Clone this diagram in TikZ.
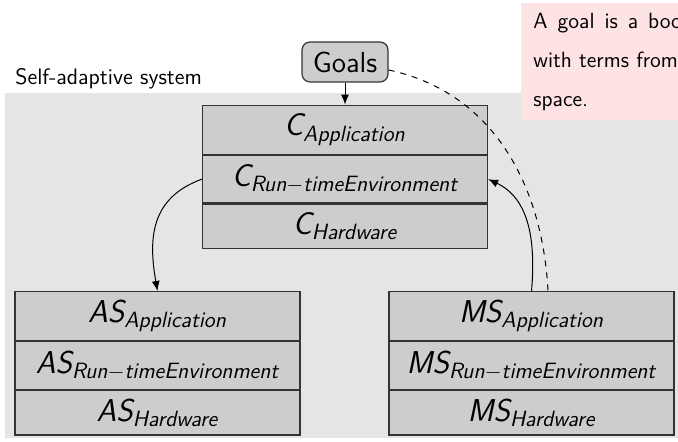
\documentclass[tikz,border=0pt]{standalone}
\usepackage{amsmath}
\usepackage{fontspec}
\usetikzlibrary{arrows.meta,positioning}
\definecolor{Canvas}{HTML}{E5E5E5}
\definecolor{Layer}{HTML}{CDCDCD}
\definecolor{Edge}{HTML}{333333}
\definecolor{Blush}{HTML}{FDE3E3}

\tikzset{
  layer/.style={draw=Edge,fill=Layer,line width=0.6pt,minimum width=142.5pt,
    minimum height=#1,inner sep=0pt,font=\fontsize{15.8}{18}\selectfont\sffamily\itshape},
  layer/.default=23.75pt,
  goalbox/.style={draw=Edge,fill=Layer,line width=0.6pt,rounded corners=4pt,
    minimum width=43pt,minimum height=20pt,inner sep=0pt,font=\fontsize{14.5}{17}\selectfont\sffamily},
  flow/.style={-{Latex[length=5pt,width=4pt]},line width=0.5pt},
}

\begin{document}
\begin{tikzpicture}[x=0.5pt,y=0.5pt]
  \useasboundingbox (0,0) rectangle (678,442);
  \clip (0,0) rectangle (678,442);
  % system frame
  \fill[Canvas] (5,4) rectangle (678,349);
  \node[anchor=base west,inner sep=0pt,font=\fontsize{11.2}{13}\selectfont\sffamily] (sysLabel) at (15,357) {Self-adaptive system};
  % goal note (cut by the frame)
  \fill[Blush] (521,322) rectangle (700,439);
  \node[anchor=north west,align=left,inner sep=0pt,font=\fontsize{11}{19.5}\selectfont\sffamily] (goalNote) at (533,429)
    {\spaceskip=5pt\relax A goal is a boolean\\with terms from\\space.};
  \node[goalbox] (goals) at (345,380) {Goals};
  % controller
  \node[layer=24.5pt,below=11pt of goals] (cApp) {$\text{C}_{\text{Application}}$};
  \node[layer,below=0pt of cApp] (cRte) {$\text{C}_{\text{Run}-\text{timeEnvironment}}$};
  \node[layer=22.25pt,below=0pt of cRte] (cHw) {$\text{C}_{\text{Hardware}}$};
  % adaptation side
  \node[layer=24.5pt,anchor=north] (asApp) at (157.5,151) {$\text{AS}_{\text{Application}}$};
  \node[layer,below=0pt of asApp] (asRte) {$\text{AS}_{\text{Run}-\text{timeEnvironment}}$};
  \node[layer=22.25pt,below=0pt of asRte] (asHw) {$\text{AS}_{\text{Hardware}}$};
  % monitoring side
  \node[layer=24.5pt,anchor=north] (msApp) at (531.5,151) {$\text{MS}_{\text{Application}}$};
  \node[layer,below=0pt of msApp] (msRte) {$\text{MS}_{\text{Run}-\text{timeEnvironment}}$};
  \node[layer=22.25pt,below=0pt of msRte] (msHw) {$\text{MS}_{\text{Hardware}}$};
  % connectors
  \draw[flow] (goals) -- (cApp);
  \draw[flow] (cRte.west) to[out=200,in=100,looseness=1.15] (asApp.north);
  \draw[flow] (msApp.north) to[out=85,in=-25] (cRte.east);
  \coordinate (goalEnd) at ([xshift=8.25pt]msApp.north);
  \draw[dashed,line width=0.5pt] ([yshift=-4pt]goals.east) to[out=-12,in=93] (goalEnd);
\end{tikzpicture}
\end{document}
